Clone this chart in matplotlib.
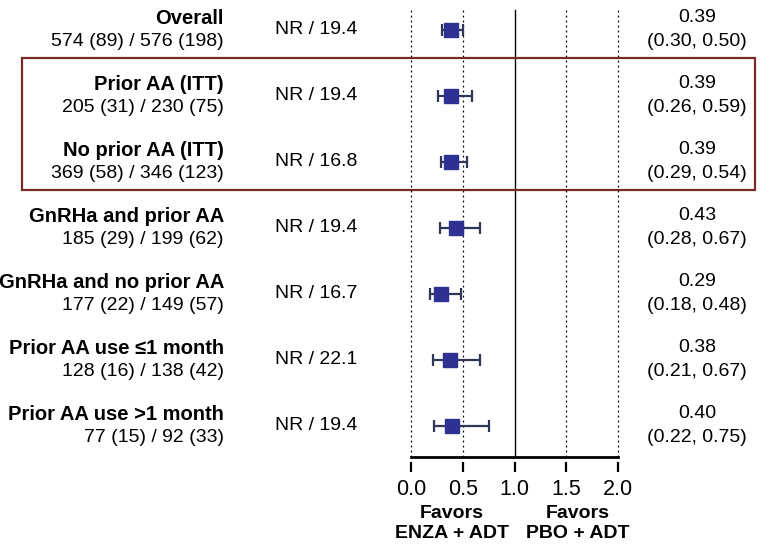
#!/usr/bin/env python3
import matplotlib
matplotlib.use('Agg')
import matplotlib.pyplot as plt
import matplotlib.transforms as mtransforms
from matplotlib.patches import Rectangle

plt.rcParams['font.family'] = ['Liberation Sans', 'DejaVu Sans']

# subgroup data
groups = ['Overall', 'Prior AA (ITT)', 'No prior AA (ITT)', 'GnRHa and prior AA',
          'GnRHa and no prior AA', 'Prior AA use \u22641 month', 'Prior AA use >1 month']
counts = ['574 (89) / 576 (198)', '205 (31) / 230 (75)', '369 (58) / 346 (123)',
          '185 (29) / 199 (62)', '177 (22) / 149 (57)', '128 (16) / 138 (42)',
          '77 (15) / 92 (33)']
medians = ['NR / 19.4', 'NR / 19.4', 'NR / 16.8', 'NR / 19.4', 'NR / 16.7',
           'NR / 22.1', 'NR / 19.4']
hr = [0.39, 0.39, 0.39, 0.43, 0.29, 0.38, 0.40]
ci_lo = [0.30, 0.26, 0.29, 0.28, 0.18, 0.21, 0.22]
ci_hi = [0.50, 0.59, 0.54, 0.67, 0.48, 0.67, 0.75]
xticks = [0.0, 0.5, 1.0, 1.5, 2.0]

W, H = 774, 552
fig = plt.figure(figsize=(W / 100, H / 100), dpi=100)

# axes spans pixel x 411..618, y 10..457 (top-down)
ax = fig.add_axes([411 / W, (H - 457) / H, 207 / W, 447 / H])
row_px = 66.0
rows = list(range(len(groups)))

for x in xticks:
    if x == 1.0:
        ax.axvline(x, color='black', lw=1.0, clip_on=False)
    else:
        ax.axvline(x, color='black', lw=0.9, ls=(0, (1.5, 2.5)), clip_on=False)

xerr = [[h - l for h, l in zip(hr, ci_lo)], [u - h for h, u in zip(hr, ci_hi)]]
ax.errorbar(hr, rows, xerr=xerr, fmt='s', color='#2E3192', ms=10,
            ecolor='#2F3656', elinewidth=1.6, capsize=4.3, capthick=1.6, zorder=3)

for s in ['top', 'left', 'right']:
    ax.spines[s].set_visible(False)
ax.spines['bottom'].set_linewidth(2.0)
ax.set_xticks([])
ax.set_yticks([])
ax.set_xlim(0, 2)
ax.set_ylim((457 - 30) / row_px, (10 - 30) / row_px)

# ticks sit just below the axis line with a small gap
sec = ax.secondary_xaxis(-5 / 447)
sec.spines['bottom'].set_visible(False)
sec.set_xticks(xticks)
sec.set_xticklabels([f'{v:.1f}' for v in xticks])
sec.tick_params(direction='out', length=7.5, width=1.6, pad=4.5, labelsize=15.5)

# text columns
tr = mtransforms.blended_transform_factory(fig.transFigure, ax.transData)
off = 12 / row_px
for i in rows:
    ax.text(224 / W, i - off, groups[i], transform=tr, ha='right', va='center',
            fontsize=14.5, fontweight='bold', clip_on=False)
    ax.text(224 / W, i + off, counts[i], transform=tr, ha='right', va='center',
            fontsize=14, clip_on=False)
    ax.text(275 / W, i, medians[i], transform=tr, ha='left', va='center',
            fontsize=14, clip_on=False)
    ax.text(697 / W, i - off, f'{hr[i]:.2f}', transform=tr, ha='center',
            va='center', fontsize=14, clip_on=False)
    ax.text(697 / W, i + off, f'({ci_lo[i]:.2f}, {ci_hi[i]:.2f})', transform=tr,
            ha='center', va='center', fontsize=14, clip_on=False)

# highlight box around the ITT rows
box = Rectangle((22 / W, 0.42), (755 - 22) / W, 2.0, transform=tr, fill=False,
                edgecolor='#7A2A24', lw=1.6, clip_on=False)
fig.add_artist(box)

# favors labels
for xc, lab in [(452, 'ENZA + ADT'), (578, 'PBO + ADT')]:
    fig.text(xc / W, 1 - 514 / H, 'Favors', ha='center', va='center',
             fontsize=14, fontweight='bold')
    fig.text(xc / W, 1 - 533 / H, lab, ha='center', va='center',
             fontsize=14, fontweight='bold')

fig.savefig('out.png', dpi=100)
